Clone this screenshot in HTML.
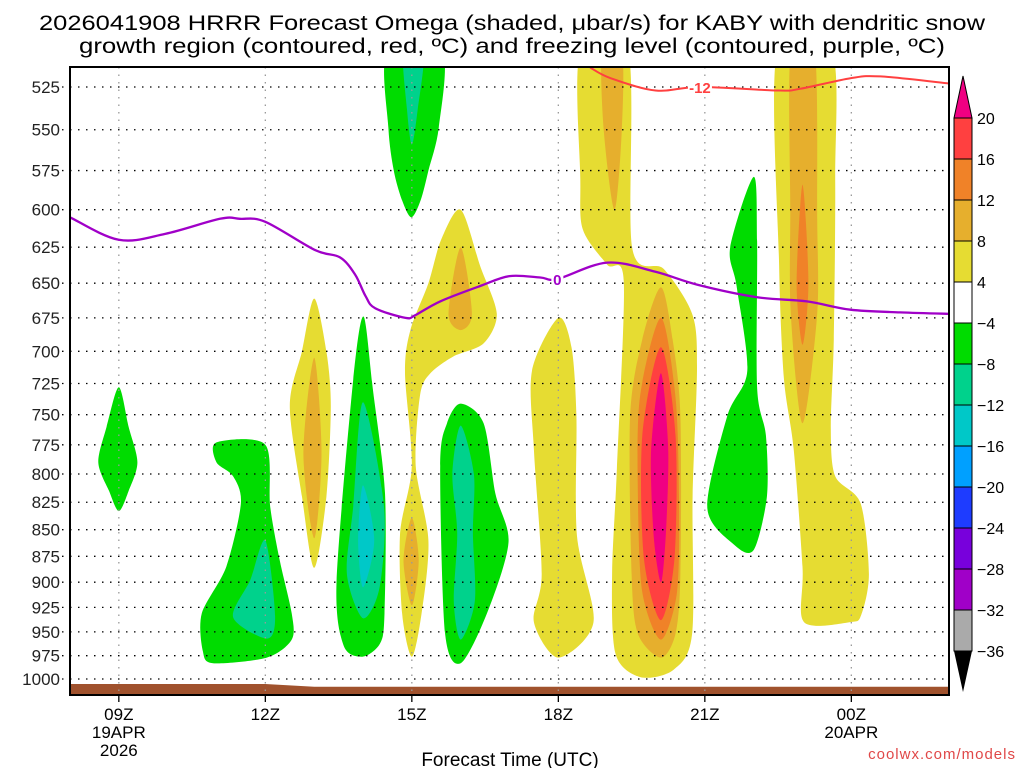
<!DOCTYPE html>
<html><head><meta charset="utf-8"><style>
html,body{margin:0;padding:0;background:#fff;}
svg{display:block;font-family:"Liberation Sans",sans-serif;}
</style></head><body>
<svg id="chart" width="1024" height="768" viewBox="0 0 1024 768">
<text x="512" y="30" text-anchor="middle" font-size="21" textLength="946" lengthAdjust="spacingAndGlyphs">2026041908 HRRR Forecast Omega (shaded, μbar/s) for KABY with dendritic snow</text>
<text x="512" y="53" text-anchor="middle" font-size="21" textLength="866" lengthAdjust="spacingAndGlyphs">growth region (contoured, red, ºC) and freezing level (contoured, purple, ºC)</text>
<defs><clipPath id="plotclip"><rect x="70" y="67" width="879" height="628"/></clipPath></defs>
<g id="shading" clip-path="url(#plotclip)"></g>
<g id="grid"></g>
<g id="lines" clip-path="url(#plotclip)"></g>
<g id="labels"></g>
<rect x="70" y="67" width="879" height="628" fill="none" stroke="#000" stroke-width="2"/>
<g id="yaxis"></g>
<g id="xaxis"></g>
<text x="510" y="766" text-anchor="middle" font-size="19">Forecast Time (UTC)</text>
<text x="1016" y="759" text-anchor="end" font-size="15" fill="#e04848" letter-spacing="1">coolwx.com/models</text>
<g id="colorbar"></g>
</svg>
<script>
const pressureTicks=[525,550,575,600,625,650,675,700,725,750,775,800,825,850,875,900,925,950,975,1000];
const hourTicks=[9,12,15,18,21,24];
const hourTickLabels=[["09Z","19APR","2026"],["12Z"],["15Z"],["18Z"],["21Z"],["00Z","20APR"]];
const cbLevels=["20","16","12","8","4","−4","−8","−12","−16","−20","−24","−28","−32","−36"];
const cbColors=["#ff4040","#f08228","#e6af2d","#e6dc32","#ffffff","#00dc00","#00d28c","#00c8c8","#00a0ff","#1e3cff","#7800dc","#a000c8","#aaaaaa"];
const surfacePressure=[[8,1005.5],[12,1005.5],[13,1008.5],[26,1008.5]];
const freezingLevel=[[8,605],[9,620],[9.95,616],[11.07,606],[11.48,606],[12,608],[13.02,627],[13.53,632],[13.84,644],[14.05,659],[14.25,668],[14.87,675],[15.07,673],[15.58,663],[16.4,652],[17,645],[17.63,646],[17.98,647],[19,635.6],[19.99,642],[20.84,651],[22.07,660],[23.09,663],[23.98,669],[25,671],[26,672]];
const dgzTop=[[18.65,514],[19.07,520],[19.99,527],[20.9,525],[22.5,527],[22.96,526],[23.98,520],[24.6,519],[26,523]];
const blobGreenK=[[14.5,505],[14.52,549],[14.63,575],[14.8,594],[14.99,605],[15.18,594],[15.34,575],[15.55,549],[15.62,505]];
const blobTealK=[[14.83,505],[14.9,538],[15.0,559],[15.12,538],[15.24,505]];
const blobGreenA=[[9,728],[9.2,760],[9.38,790],[9.2,815],[9,833],[8.8,815],[8.58,790],[8.75,760]];
const blobGreenB=[[11.0,773],[12.0,775],[12.1,829],[12.3,880],[12.54,931],[12.54,958],[12.03,977],[10.93,983],[10.72,970],[10.7,931],[11.2,885],[11.5,826],[11.34,802],[11.0,790]];
const blobTealB=[[12.0,860],[12.2,934],[12.03,957],[11.34,935],[11.69,898]];
const blobYellowC=[[13.0,661],[13.25,700],[13.34,743],[13.25,820],[13.0,886],[12.75,820],[12.5,743],[12.75,700]];
const blobOrangeC=[[13.0,705],[13.15,782],[13.0,858],[12.78,782]];
const blobGreenD=[[14.01,674],[14.2,729],[14.45,817],[14.44,931],[14.35,962],[13.99,976],[13.6,964],[13.46,898],[13.8,722]];
const blobTealD=[[14.0,740],[14.43,829],[14.34,905],[14.0,936],[13.67,892],[13.8,829]];
const blobCyanD=[[14.0,810],[14.23,860],[14.0,905],[13.9,860]];
const blobYellowE=[[16.0,600],[16.4,638],[16.74,672],[16.47,694],[15.85,704],[15.38,717],[15.17,734],[15.08,793],[15.34,860],[15.2,931],[15.0,976],[14.8,931],[14.76,853],[15.0,793],[14.86,717],[14.97,684],[15.34,650],[15.6,620]];
const blobOrangeE1=[[16.0,625],[16.23,672],[16.0,684],[15.75,672]];
const blobOrangeE2=[[15.0,839],[15.14,879],[15.0,923],[14.83,879]];
const blobGreenF=[[16.0,741],[16.47,757],[16.71,817],[16.98,862],[16.54,931],[16.0,983],[15.68,951],[15.58,793],[15.72,757]];
const blobTealF=[[16.0,759],[16.27,800],[16.25,853],[16.29,919],[16.0,958],[15.86,919],[15.93,853],[15.83,800]];
const blobYellowG=[[18.0,675],[18.27,697],[18.37,751],[18.38,855],[18.72,940],[18.0,977],[17.5,940],[17.66,892],[17.5,779],[17.46,715]];
const blobYellowH=[[18.45,505],[19.43,505],[19.51,625],[20.16,640],[20.74,672],[20.84,712],[20.75,820],[20.74,952],[20.36,990],[19.68,998],[19.17,973],[19.1,892],[19.2,795],[19.34,649],[19.0,637],[18.5,613],[18.45,580]];
const blobOrangeH1=[[18.9,505],[19.3,505],[19.3,550],[19.15,600],[18.93,550]];
const blobOrangeH2=[[20.1,653],[20.34,691],[20.5,751],[20.5,892],[20.4,952],[20.1,977],[19.63,952],[19.5,892],[19.47,751],[19.72,691]];
const blobDarkOrangeH=[[20.1,675],[20.4,736],[20.47,820],[20.43,910],[20.1,958],[19.72,910],[19.63,820],[19.67,736]];
const blobRedH=[[20.1,697],[20.4,767],[20.38,876],[20.1,938],[19.75,876],[19.72,767]];
const blobMagentaH=[[20.1,717],[20.25,779],[20.2,855],[20.1,900],[19.95,855],[19.9,779]];
const blobGreenI=[[22.0,579],[22.07,621],[22.07,728],[22.25,767],[22.27,820],[22.0,869],[21.6,864],[21.05,830],[21.46,751],[21.87,715],[21.65,652],[21.52,625]];
const blobYellowJ=[[22.48,505],[23.6,505],[23.67,580],[23.64,691],[23.58,761],[23.67,802],[24.19,826],[24.36,892],[24.2,933],[23.98,940],[23.03,940],[23.0,885],[22.82,779],[22.62,721],[22.52,637]];
const blobOrangeJ=[[22.76,505],[23.25,505],[23.3,606],[23.3,672],[23.0,757],[22.76,672],[22.75,600]];
const blobDarkOrangeJ=[[23.0,584],[23.12,650],[23.0,695],[22.88,650]];
const blobLayers=[
 [blobGreenK,-4],[blobTealK,-8],[blobGreenA,-4],[blobGreenB,-4],[blobTealB,-8],
 [blobYellowC,4],[blobOrangeC,8],[blobGreenD,-4],[blobTealD,-8],[blobCyanD,-12],
 [blobYellowE,4],[blobOrangeE1,8],[blobOrangeE2,8],[blobGreenF,-4],[blobTealF,-8],
 [blobYellowG,4],[blobYellowH,4],[blobOrangeH1,8],[blobOrangeH2,8],[blobDarkOrangeH,12],[blobRedH,16],[blobMagentaH,20],
 [blobGreenI,-4],[blobYellowJ,4],[blobOrangeJ,8],[blobDarkOrangeJ,12]];

const NS="http://www.w3.org/2000/svg";
const X0=70,X1=949,H0=8,H1=26;
function xScale(h){return X0+(h-H0)*(X1-X0)/(H1-H0);}
function yScale(p){return 87+918.7*Math.log(p/525);}
function levelColor(v){
 const m={20:"#f00082",16:"#ff4040",12:"#f08228",8:"#e6af2d",4:"#e6dc32","-4":"#00dc00","-8":"#00d28c","-12":"#00c8c8"};
 return m[v];}
function mk(tag,attrs,parent){const e=document.createElementNS(NS,tag);for(const k in attrs)e.setAttribute(k,attrs[k]);parent.appendChild(e);return e;}
function smoothClosed(pts){
 const n=pts.length;let d="M"+pts[0][0].toFixed(1)+","+pts[0][1].toFixed(1);
 for(let i=0;i<n;i++){const p0=pts[(i-1+n)%n],p1=pts[i],p2=pts[(i+1)%n],p3=pts[(i+2)%n];const t=7;
  d+="C"+(p1[0]+(p2[0]-p0[0])/t).toFixed(1)+","+(p1[1]+(p2[1]-p0[1])/t).toFixed(1)+" "+(p2[0]-(p3[0]-p1[0])/t).toFixed(1)+","+(p2[1]-(p3[1]-p1[1])/t).toFixed(1)+" "+p2[0].toFixed(1)+","+p2[1].toFixed(1);}
 return d+"Z";}
function smoothOpen(pts){
 let d="M"+pts[0][0].toFixed(1)+","+pts[0][1].toFixed(1);const n=pts.length;
 for(let i=0;i<n-1;i++){const p0=pts[Math.max(i-1,0)],p1=pts[i],p2=pts[i+1],p3=pts[Math.min(i+2,n-1)];const t=6;
  d+="C"+(p1[0]+(p2[0]-p0[0])/t).toFixed(1)+","+(p1[1]+(p2[1]-p0[1])/t).toFixed(1)+" "+(p2[0]-(p3[0]-p1[0])/t).toFixed(1)+","+(p2[1]-(p3[1]-p1[1])/t).toFixed(1)+" "+p2[0].toFixed(1)+","+p2[1].toFixed(1);}
 return d;}

const shading=document.getElementById('shading');
blobLayers.forEach(function(b){
 const pts=b[0].map(function(q){return [xScale(q[0]),yScale(q[1])];});
 const el=mk('path',{d:smoothClosed(pts),fill:levelColor(b[1])},shading);
 
 
});
(function(){
 let d="M"+xScale(surfacePressure[0][0])+","+yScale(surfacePressure[0][1]);
 surfacePressure.forEach(function(q){d+="L"+xScale(q[0]).toFixed(1)+","+yScale(q[1]).toFixed(1);});
 d+="L"+X1+",700L"+X0+",700Z";
 const el=mk('path',{d:d,fill:"#a0522d"},shading);
 
 
})();
const grid=document.getElementById('grid');
pressureTicks.forEach(function(p){
 const y=yScale(p);
 const el=mk('line',{x1:62,x2:X1,y1:y,y2:y,stroke:"#000","stroke-width":1.3,"stroke-dasharray":"1.5 6.5"},grid);
 
 
});
hourTicks.forEach(function(h){
 const x=xScale(h);
 const el=mk('line',{x1:x,x2:x,y1:67,y2:695,stroke:"#999","stroke-width":1.3,"stroke-dasharray":"1.5 6"},grid);
 
 
});
const lines=document.getElementById('lines');
(function(){
 const fp=freezingLevel.map(function(q){return [xScale(q[0]),yScale(q[1])];});
 const el=mk('path',{d:smoothOpen(fp),fill:"none",stroke:"#a000c8","stroke-width":2.3},lines);
 
 
 const rp=dgzTop.map(function(q){return [xScale(q[0]),yScale(q[1])];});
 const el2=mk('path',{d:smoothOpen(rp),fill:"none",stroke:"#ff4040","stroke-width":2},lines);
 
 
})();
const labels=document.getElementById('labels');
(function(){
 const x0=xScale(17.98),y0=yScale(647);
 mk('rect',{x:x0-6,y:y0-9,width:12,height:17,fill:"#fff"},labels);
 const t=mk('text',{x:x0,y:y0+6,"text-anchor":"middle","font-size":15,"font-weight":"bold",fill:"#a000c8"},labels);
 t.textContent="0";
 
 
 const x1=xScale(20.9),y1=yScale(525);
 mk('rect',{x:x1-12,y:y1-9,width:24,height:17,fill:"#fff"},labels);
 const t2=mk('text',{x:x1,y:y1+6,"text-anchor":"middle","font-size":15,"font-weight":"bold",fill:"#ff4040"},labels);
 t2.textContent="-12";
 
 
})();
const yaxis=document.getElementById('yaxis');
pressureTicks.forEach(function(p){
 const y=yScale(p);
 const t=mk('text',{x:60,y:y+6,"text-anchor":"end","font-size":17,fill:"#222"},yaxis);
 t.textContent=String(p);
 
 
});
const xaxis=document.getElementById('xaxis');
hourTicks.forEach(function(h,i){
 const x=xScale(h);
 mk('line',{x1:x,x2:x,y1:695,y2:702,stroke:"#000","stroke-width":1.3},xaxis);
 hourTickLabels[i].forEach(function(s,j){
  const t=mk('text',{x:x,y:720+j*18,"text-anchor":"middle","font-size":17},xaxis);
  t.textContent=s;
  
  
 });
});
const cb=document.getElementById('colorbar');
const cbX=954,cbW=18,cbTop=118,cbH=41;
(function(){
 const up=mk('path',{d:"M"+cbX+","+cbTop+"L"+(cbX+cbW/2)+",76L"+(cbX+cbW)+","+cbTop+"Z",fill:"#f00082",stroke:"#000","stroke-width":1},cb);
 
 
 cbColors.forEach(function(c,i){
  const r=mk('rect',{x:cbX,y:cbTop+i*cbH,width:cbW,height:cbH,fill:c,stroke:"#000","stroke-width":1},cb);
  
  
 });
 const yb=cbTop+cbColors.length*cbH;
 const dn=mk('path',{d:"M"+cbX+","+yb+"L"+(cbX+cbW/2)+","+(yb+41)+"L"+(cbX+cbW)+","+yb+"Z",fill:"#000"},cb);
 
 
 cbLevels.forEach(function(s,i){
  const t=mk('text',{x:977,y:cbTop+i*cbH+6,"font-size":16},cb);
  t.textContent=s;
  
  
 });
})();
</script>
</body></html>
